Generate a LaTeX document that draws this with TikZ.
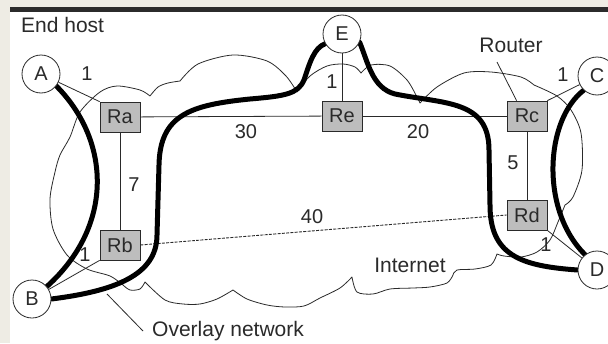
\documentclass[tikz,border=0pt]{standalone}
\usepackage{fontspec}
\setmainfont{Liberation Sans}
\pgfdeclarelayer{back}
\pgfdeclarelayer{bg}
\pgfsetlayers{back,bg,main}
\definecolor{paper}{HTML}{EEECE4}
\definecolor{barcol}{HTML}{2B2B2B}
\definecolor{ink}{HTML}{2A2A2A}
\definecolor{boxfill}{HTML}{BDBDBD}
\begin{document}
\begin{tikzpicture}[x=1pt,y=-1pt,
  routerbox/.style={draw=ink, fill=boxfill, line width=0.8pt, minimum width=40pt, minimum height=30pt, inner sep=0pt, font=\fontsize{20}{20}\selectfont, text=ink},
  host/.style={circle, draw=ink, fill=white, line width=0.8pt, minimum size=38pt, inner sep=0pt, font=\fontsize{20}{20}\selectfont, text=ink},
  link/.style={draw=ink, line width=0.8pt},
  dashlink/.style={link, line width=0.9pt, dash pattern=on 3pt off 1.3pt},
  overlaypath/.style={draw=black, line width=5pt, line cap=round},
  cloudline/.style={draw=ink, line width=0.8pt, line join=round},
  lbl/.style={font=\fontsize{20}{20}\selectfont, text=ink, inner sep=0pt},
  caption/.style={font=\fontsize{21}{21}\selectfont, text=ink, inner sep=0pt}]
% frame
\begin{pgfonlayer}{back}
\fill[paper] (0,0) rectangle (608,343);
\fill[white] (10,12) rectangle (608,343);
\fill[barcol] (10,7) rectangle (608,12);
\end{pgfonlayer}
\useasboundingbox (0,0) rectangle (608,343);

% hosts
\node[host] (A) at (41,74) {A};
\node[host] (B) at (32,299) {B};
\node[host] (C) at (597,76) {C};
\node[host] (D) at (597,270) {D};
\node[host] (E) at (342,34) {E};

% routers
\node[routerbox] (Ra) at (120,117) {Ra};
\node[routerbox] (Rb) at (120,245) {Rb};
\node[routerbox] (Re) at (342,116) {Re};
\node[routerbox] (Rc) at (527,116) {Rc};
\node[routerbox] (Rd) at (527,215) {Rd};

% texts
\node[caption, anchor=west] (endhost) at (21,25) {End host};
\node[caption] (router) at (511,45) {Router};
\node[caption] (internet) at (410,265) {Internet};
\node[caption, anchor=west] (ovl) at (152,331) {Overlay network};

\node[lbl] (l1) at (87,74) {1};
\node[lbl] (l2) at (332,82) {1};
\node[lbl] (l3) at (563,75) {1};
\node[lbl] (l4) at (85,255) {1};
\node[lbl] (l5) at (546,245) {1};
\node[lbl] (l30) at (246,132) {30};
\node[lbl] (l20) at (418,132) {20};
\node[lbl] (l7) at (134,185) {7};
\node[lbl] (l5b) at (513,163) {5};
\node[lbl] (l40) at (312,217) {40};

\coordinate (rtail) at (497,62);
\coordinate (ovtip) at (107,294);

\begin{pgfonlayer}{bg}
% cloud
\draw[cloudline]
  plot[smooth] coordinates {(150,96) (158,87) (168,83) (180,81)}
  -- plot[smooth] coordinates {(180,81) (198,64) (233,55) (267,61) (286,76) (297,92)}
  -- plot[smooth] coordinates {(297,92) (310,76) (327,66) (343,64) (355,67) (361,73)}
  -- plot[smooth] coordinates {(361,73) (371,65) (390,66) (407,80) (417,97) (420,103)}
  -- plot[smooth] coordinates {(420,103) (437,87) (464,73) (491,72) (521,77) (534,85)}
  -- plot[smooth] coordinates {(534,85) (557,96) (571,110) (581,133) (582,170) (573,197) (565,205)}
  -- plot[smooth] coordinates {(565,205) (558,222) (550,240) (537,252) (521,257) (504,256) (497,254)}
  -- plot[smooth] coordinates {(497,254) (491,265) (475,269) (457,270) (453,275)}
  -- plot[smooth] coordinates {(453,275) (447,283) (430,287) (413,288) (390,289) (373,294) (357,292) (352,277)}
  -- plot[smooth] coordinates {(352,277) (340,288) (320,298) (304,306) (285,307) (267,305) (247,299) (233,290)}
  -- plot[smooth] coordinates {(233,290) (217,299) (200,304) (183,304) (165,300) (145,282)}
  -- plot[smooth] coordinates {(145,282) (140,289) (130,290) (123,285)}
  -- plot[smooth] coordinates {(123,285) (110,276) (87,269) (67,255) (53,229) (50,199) (55,172) (60,155) (70,137) (80,112) (100,92) (117,86) (140,90) (150,96)};

% thin links
\draw[link] (A) -- (Ra.north west);
\draw[link] (B) -- (Rb.south west);
\draw[link] (C) -- (Rc.north east);
\draw[link] (Rd.south east) -- (D);
\draw[link] (E) -- (Re);
\draw[link] (Ra) -- (Re);
\draw[link] (Re) -- (Rc);
\draw[link] (Ra) -- (Rb);
\draw[link] (Rc) -- (Rd);
\draw[dashlink] (Rb.east) -- (Rd.west);
\draw[link] (rtail) -- ([xshift=10pt]Rc.north west);
\draw[link] ([xshift=-9pt]ovl.west) -- (ovtip);

% overlay network paths
\draw[overlaypath] (B.east) .. controls (115,291) and (157,275) .. (157,235)
  -- (159,165) .. controls (160,115) and (190,105) .. (250,99)
  .. controls (285,96) and (298,94) .. (304,80)
  .. controls (310,62) and (314,48) .. (E.210);
\draw[overlaypath] (E.-25) .. controls (368,62) and (372,88) .. (395,94)
  .. controls (445,104) and (489,100) .. (489,150)
  -- (490,205) .. controls (490,255) and (520,266) .. (D.west);
\draw[overlaypath] (C.227) .. controls (545,120) and (540,210) .. (D.128);
\draw[overlaypath] (A.-38) .. controls (110,140) and (115,225) .. (B.40);
\end{pgfonlayer}
\end{tikzpicture}
\end{document}
